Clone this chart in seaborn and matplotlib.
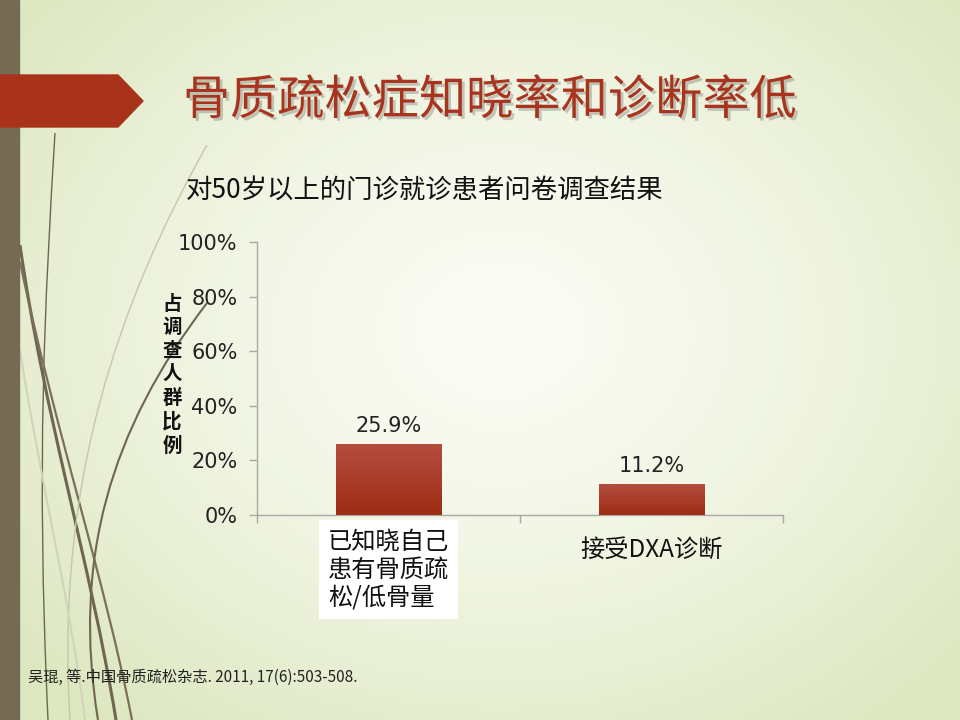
import numpy as np
import matplotlib
matplotlib.use("Agg")
import matplotlib.pyplot as plt
import matplotlib.patheffects as pe
import matplotlib.transforms as mtransforms
from matplotlib.patches import Polygon, Rectangle, PathPatch
from matplotlib.path import Path
from matplotlib.colors import LinearSegmentedColormap
import seaborn as sns

# chart data
categories = ["已知晓自己\n患有骨质疏\n松/低骨量", "接受DXA诊断"]
values = [0.259, 0.112]
y_ticks = [0, 0.2, 0.4, 0.6, 0.8, 1.0]
y_tick_labels = ["0%", "20%", "40%", "60%", "80%", "100%"]

title = "骨质疏松症知晓率和诊断率低"
subtitle = "对50岁以上的门诊就诊患者问卷调查结果"
y_label = "占调查人群比例"
source = "吴琨, 等.中国骨质疏松杂志. 2011, 17(6):503-508."

sns.set_theme(style="white")
plt.rcParams['font.family'] = ['Noto Sans CJK SC', 'DejaVu Sans']

W, H = 960, 720
fig = plt.figure(figsize=(9.6, 7.2), dpi=100)

# --- slide background (pixel coordinates) ---
bg = fig.add_axes([0, 0, 1, 1])
bg.set_xlim(0, W)
bg.set_ylim(H, 0)
bg.axis("off")
yy, xx = np.mgrid[0:H, 0:W]
r = np.clip(np.hypot((xx - 500) / 620, (yy - 330) / 500), 0, 1)
c0 = np.array([251, 252, 245]) / 255
c1 = np.array([221, 231, 192]) / 255
img = c0 + (c1 - c0) * (r[..., None] ** 1.4)
bg.imshow(img, extent=(0, W, H, 0), aspect='auto', zorder=0)

# left strip and title arrow
bg.add_patch(Rectangle((0, 0), 19, H, color='#756b55', zorder=2))
bg.add_patch(Polygon([(0, 75), (118, 75), (143, 101), (118, 127), (0, 127)],
                     closed=True, color='#a9331a', zorder=2))

# decorative wisps
wisps = [
    ([(55, 133), (45, 300), (36, 460), (48, 720)], '#6f6651', 1.0),
    ([(20, 245), (45, 420), (90, 560), (116, 720)], '#6f6651', 2.2),
    ([(20, 262), (55, 430), (105, 580), (132, 720)], '#7a705a', 1.6),
    ([(207, 303), (110, 430), (72, 560), (98, 720)], '#6f6651', 1.5),
    ([(207, 145), (120, 300), (55, 480), (70, 720)], '#c4c7ab', 1.0),
    ([(20, 350), (40, 480), (70, 600), (85, 720)], '#d0d4ba', 1.5),
]
for pts, col, lw in wisps:
    path = Path(pts, [Path.MOVETO, Path.CURVE4, Path.CURVE4, Path.CURVE4])
    bg.add_patch(PathPatch(path, fc='none', ec=col, lw=lw, zorder=1))

bg.text(490, 101, title, fontsize=34, color='#a8341f', ha='center', va='center', zorder=3,
        path_effects=[pe.withSimplePatchShadow(offset=(2, -2), shadow_rgbFace='#555555', alpha=0.3)])
bg.text(186, 190, subtitle, fontsize=19, color='#111111', ha='left', va='center', zorder=3)
bg.text(28, 677, source, fontsize=11, color='#222222', ha='left', va='center', zorder=3)

# --- bar chart ---
ax = fig.add_axes([257 / W, 1 - 515 / H, 526 / W, 273 / H])
ax.patch.set_alpha(0)
sns.barplot(x=categories, y=values, color='#a83a26', width=0.4, ax=ax, zorder=2)

bar_cmap = LinearSegmentedColormap.from_list('bar', ['#9f2c15', '#b44d3e'])
grad = np.linspace(0, 1, 64)[:, None]
for p in ax.patches:
    x0, y0 = p.get_x(), p.get_y()
    im = ax.imshow(grad, extent=(x0, x0 + p.get_width(), y0, y0 + p.get_height()),
                   cmap=bar_cmap, aspect='auto', origin='lower', zorder=3)
    im.set_clip_path(p)

ax.set_xlim(-0.5, 1.5)
ax.set_ylim(0, 1)
ax.set_xlabel("")
ax.set_ylabel("")

sns.despine(ax=ax)
for s in ['left', 'bottom']:
    ax.spines[s].set_color('#a8a8a8')
    ax.spines[s].set_linewidth(1)

ax.set_yticks(y_ticks, y_tick_labels)
ax.tick_params(axis='y', left=True, length=6, width=1, color='#a8a8a8', direction='out',
               pad=8, labelsize=15, labelcolor='#222222')
for lab in ax.get_yticklabels():
    lab.set_family('DejaVu Sans')

ax.set_xticks([])
ax.set_xticks([-0.5, 0.5, 1.5], minor=True)
ax.tick_params(axis='x', which='minor', bottom=True, length=6, width=1, color='#a8a8a8',
               direction='out')

ax.bar_label(ax.containers[0], labels=[f"{v * 100:.1f}%" for v in values], padding=6,
             fontsize=15, color='#222222', family='DejaVu Sans')

trans = mtransforms.blended_transform_factory(ax.transData, ax.transAxes)
ax.text(0, -0.05, categories[0], transform=trans, ha='center', va='top', fontsize=17.5,
        multialignment='left', linespacing=1.1, color='#111111', clip_on=False,
        bbox=dict(boxstyle='square,pad=0.35', fc='white', ec='none'))
ax.text(1, -0.082, categories[1], transform=trans, ha='center', va='top', fontsize=17.5,
        color='#111111', clip_on=False)

fig.text(172 / W, 1 - 375 / H, "\n".join(y_label), ha='center', va='center', fontsize=14,
         fontweight='bold', linespacing=1.3, color='#111111')

fig.savefig('out.png', dpi=100)
